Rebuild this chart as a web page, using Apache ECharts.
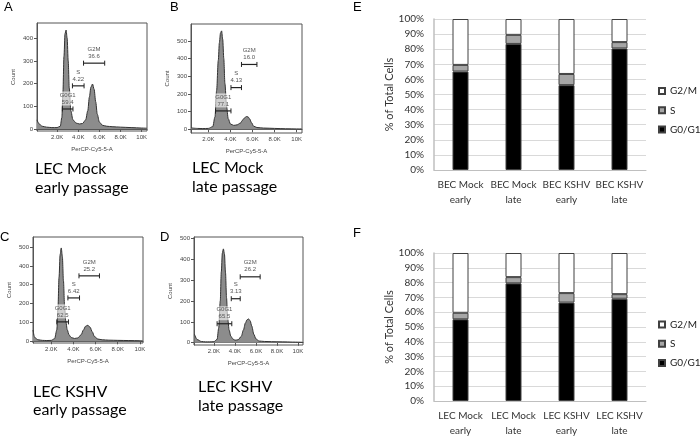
<!DOCTYPE html>
<html><head><meta charset="utf-8">
<script src="https://cdn.jsdelivr.net/npm/echarts@6/dist/echarts.min.js"></script>
<style>html,body{margin:0;padding:0;background:#fff}#c{width:700px;height:438px}</style>
</head><body><div id="c"></div>
<script>
// ---- Histogram data (x in thousands of PerCP-Cy5-5-A units, y = count) ----
const histA_x = [0.1,0.3,0.6,1.0,1.5,2.0,2.3,2.45,2.55,2.65,2.75,2.85,2.95,3.05,3.15,3.3,3.5,3.8,4.1,4.4,4.7,4.9,5.05,5.2,5.35,5.5,5.65,5.8,6.0,6.3,6.7,7.2,8.0,9.0,10.0,10.5];
const histA_y = [40,22,12,8,6,6,12,50,160,320,420,436,400,300,180,80,40,26,22,24,40,80,140,185,198,175,120,65,30,16,12,10,8,6,4,3];
const histB_x = [0.45,1.0,1.5,2.0,2.4,2.6,2.75,2.9,3.0,3.1,3.2,3.3,3.4,3.5,3.65,3.8,4.0,4.3,4.6,4.9,5.1,5.3,5.45,5.6,5.75,5.9,6.1,6.4,7.0,8.0,9.0,10.0,10.45];
const histB_y = [8,5,4,5,15,70,220,390,490,545,557,510,400,260,130,60,30,22,25,35,52,66,72,70,58,38,18,10,7,5,3,2,2];
const histC_x = [0.35,0.5,0.8,1.2,1.6,2.0,2.3,2.5,2.6,2.7,2.8,2.9,3.0,3.1,3.2,3.3,3.45,3.6,3.8,4.1,4.4,4.7,4.9,5.1,5.3,5.5,5.7,5.9,6.2,6.6,7.2,8.0,9.0,10.0,10.25];
const histC_y = [60,20,8,5,4,5,14,60,170,340,460,495,450,320,190,110,60,34,20,15,18,35,60,80,85,75,50,25,12,8,6,5,4,3,3];
const histD_x = [0.15,0.4,0.8,1.2,1.6,2.0,2.3,2.45,2.6,2.7,2.8,2.9,3.0,3.1,3.2,3.3,3.45,3.6,3.8,4.0,4.3,4.6,4.8,5.0,5.15,5.3,5.45,5.6,5.8,6.0,6.3,6.8,7.5,8.5,9.5,10.45];
const histD_y = [40,15,6,4,4,5,16,70,200,340,430,450,425,335,215,120,60,32,18,12,14,30,60,95,110,114,105,80,40,18,8,6,5,4,3,2];

// ---- Gates: [start, end, count level] in order G0G1, S, G2M ----
const gateNames = ['G0G1','S','G2M'];
const gatesA = [[2.5,3.5,88],[3.45,4.55,190],[4.5,6.5,290]];
const gateValsA = ['59.4','4.22','36.6'];
const gatesB = [[2.65,4.05,104],[4.05,5.0,236],[5.0,6.4,367]];
const gateValsB = ['77.1','4.13','16.0'];
const gatesC = [[2.5,3.55,103],[3.5,4.55,230],[4.5,6.35,347]];
const gateValsC = ['62.5','6.42','25.2'];
const gatesD = [[2.3,3.7,91],[3.65,4.5,211],[4.5,6.4,316]];
const gateValsD = ['65.5','3.13','26.2'];

const histXTicks = [2,4,6,8,10];
const histYTicks = [0,100,200,300,400,500];

// ---- Stacked bar data (% of total cells) ----
const catsE = ['BEC Mock\nearly','BEC Mock\nlate','BEC KSHV\nearly','BEC KSHV\nlate'];
const e_G0G1 = [65.2, 83.5, 56.2, 80.5];
const e_S    = [4.4, 6.0, 7.4, 4.2];
const e_G2M  = [30.4, 10.5, 36.4, 15.3];
const catsF = ['LEC Mock\nearly','LEC Mock\nlate','LEC KSHV\nearly','LEC KSHV\nlate'];
const f_G0G1 = [55.2, 79.5, 66.5, 69.1];
const f_S    = [4.4, 4.2, 6.4, 3.1];
const f_G2M  = [40.4, 16.3, 27.1, 27.8];

const SMALL = 'Liberation Sans';
const BIG = 'Lato';

function pairs(xs, ys){ return xs.map((x,i)=>[x, ys[i]]); }

function histX(gi, min, max){
  return {
    type:'value', gridIndex:gi, min:min, max:max,
    axisLine:{show:true, lineStyle:{color:'#555', width:1}},
    axisTick:{show:true, customValues:histXTicks, length:3, lineStyle:{color:'#555'}},
    axisLabel:{customValues:histXTicks, fontSize:6, color:'#444', fontFamily:SMALL, margin:3,
      formatter:v => v===10 ? '10K' : v.toFixed(1)+'K'},
    splitLine:{show:false},
    name:'PerCP-Cy5-5-A', nameLocation:'middle', nameGap:15,
    nameTextStyle:{fontSize:6, color:'#444', fontFamily:SMALL}
  };
}
function histY(gi, min, max){
  return {
    type:'value', gridIndex:gi, min:min, max:max,
    axisLine:{show:true, lineStyle:{color:'#555', width:1}},
    axisTick:{show:true, customValues:histYTicks.filter(v=>v<max), length:3, lineStyle:{color:'#555'}},
    axisLabel:{customValues:histYTicks.filter(v=>v<max), fontSize:6, color:'#444', fontFamily:SMALL, margin:4},
    splitLine:{show:false},
    name:'Count', nameLocation:'middle', nameGap:21, nameRotate:90,
    nameTextStyle:{fontSize:6, color:'#444', fontFamily:SMALL}
  };
}
function histSeries(gi, xs, ys){
  return {
    type:'line', xAxisIndex:gi, yAxisIndex:gi, data:pairs(xs, ys), z:2,
    smooth:0.3, smoothMonotone:'x', showSymbol:false, silent:true,
    lineStyle:{color:'#333', width:1}, areaStyle:{color:'#8c8c8c', opacity:1}
  };
}
function gateSeries(gi, gates, vals){
  return {
    type:'custom', xAxisIndex:gi, yAxisIndex:gi, data:gates, clip:false, silent:true, z:10,
    encode:{x:[0,1], y:2},
    renderItem:function(params, api){
      const a = api.coord([api.value(0), api.value(2)]);
      const b = api.coord([api.value(1), api.value(2)]);
      const mx = (a[0]+b[0])/2;
      return {type:'group', children:[
        {type:'text', z2:20, style:{x:mx, y:a[1]-10.5, text:gateNames[params.dataIndex]+'\n'+vals[params.dataIndex],
          align:'center', verticalAlign:'middle', fontSize:6, lineHeight:7, fill:'#555', fontFamily:SMALL,
          backgroundColor:'rgba(255,255,255,0.6)'}},
        {type:'line', z2:20, shape:{x1:a[0], y1:a[1], x2:b[0], y2:b[1]}, style:{stroke:'#222', lineWidth:1.2}},
        {type:'line', z2:20, shape:{x1:a[0], y1:a[1]-2.5, x2:a[0], y2:a[1]+2.5}, style:{stroke:'#222', lineWidth:1}},
        {type:'line', z2:20, shape:{x1:b[0], y1:b[1]-2.5, x2:b[0], y2:b[1]+2.5}, style:{stroke:'#222', lineWidth:1}}
      ]};
    }
  };
}
function barX(gi, cats){
  return {
    type:'category', gridIndex:gi, data:cats,
    axisLine:{show:true, lineStyle:{color:'#bfbfbf', width:1}},
    axisTick:{show:false},
    axisLabel:{fontSize:10, color:'#333', fontFamily:BIG, lineHeight:15, margin:7, interval:0}
  };
}
function barY(gi){
  return {
    type:'value', gridIndex:gi, min:0, max:100, interval:10,
    axisLine:{show:true, lineStyle:{color:'#bfbfbf', width:1.5}},
    axisTick:{show:false},
    axisLabel:{fontSize:10, color:'#333', fontFamily:BIG, formatter:'{value}%', margin:10},
    splitLine:{show:true, lineStyle:{color:'#d9d9d9', width:1}},
    name:'% of Total Cells', nameLocation:'middle', nameGap:37, nameRotate:90,
    nameTextStyle:{fontSize:11, color:'#333', fontFamily:BIG}
  };
}
function barSeries(gi, stack, name, data, color){
  return {
    type:'bar', name:name, xAxisIndex:gi, yAxisIndex:gi, stack:stack, data:data, barWidth:16,
    itemStyle:{color:color, borderColor:'#404040', borderWidth:1}, silent:true
  };
}
function legend(top){
  return {
    data:['G2/M','S','G0/G1'], orient:'vertical', left:658, top:top, padding:0,
    icon:'rect', itemWidth:6, itemHeight:6, itemGap:7.3,
    textStyle:{fontSize:10, color:'#222', fontFamily:BIG, lineHeight:12},
    selectedMode:false
  };
}
function txt(x, y, s, size, font){
  return {type:'text', left:x, top:y, silent:true,
    style:{text:s, fontSize:size, fontFamily:font, fill:'#000'}};
}

const boxStyle = {show:true, borderColor:'#555', borderWidth:1, backgroundColor:'#fff'};
const option = {
  animation:false,
  grid:[
    Object.assign({left:37, top:23, width:110, height:108}, boxStyle),
    Object.assign({left:191, top:24, width:111, height:109}, boxStyle),
    Object.assign({left:33, top:237, width:110, height:106}, boxStyle),
    Object.assign({left:194, top:237, width:109, height:108}, boxStyle),
    {left:434, top:19, width:212, height:151},
    {left:434, top:253, width:212, height:151}
  ],
  xAxis:[histX(0,0.1,10.5), histX(1,0.43,10.48), histX(2,0.35,10.28), histX(3,0.1,10.48), barX(4,catsE), barX(5,catsF)],
  yAxis:[histY(0,-9,467), histY(1,-21,596), histY(2,-9,553), histY(3,-11,507), barY(4), barY(5)],
  legend:[legend(85), legend(318.5)],
  series:[
    histSeries(0,histA_x,histA_y), gateSeries(0,gatesA,gateValsA),
    histSeries(1,histB_x,histB_y), gateSeries(1,gatesB,gateValsB),
    histSeries(2,histC_x,histC_y), gateSeries(2,gatesC,gateValsC),
    histSeries(3,histD_x,histD_y), gateSeries(3,gatesD,gateValsD),
    barSeries(4,'E','G0/G1',e_G0G1,'#000000'),
    barSeries(4,'E','S',e_S,'#a6a6a6'),
    barSeries(4,'E','G2/M',e_G2M,'#ffffff'),
    barSeries(5,'F','G0/G1',f_G0G1,'#000000'),
    barSeries(5,'F','S',f_S,'#a6a6a6'),
    barSeries(5,'F','G2/M',f_G2M,'#ffffff')
  ],
  graphic:[
    txt(4,1,'A',13,SMALL), txt(170,1,'B',13,SMALL), txt(0,231,'C',13,SMALL), txt(160,231,'D',13,SMALL),
    txt(353,1,'E',13,SMALL), txt(353,227,'F',13,SMALL),
    txt(35,161,'LEC Mock',16,BIG), txt(35,180,'early passage',16,BIG),
    txt(192,160,'LEC Mock',16,BIG), txt(192,179,'late passage',16,BIG),
    txt(33,384,'LEC KSHV',16,BIG), txt(33,402,'early passage',16,BIG),
    txt(198,379,'LEC KSHV',16,BIG), txt(198,398,'late passage',16,BIG)
  ]
};
const chart = echarts.init(document.getElementById('c'), null, {renderer:'canvas'});
chart.setOption(option);
</script></body></html>
